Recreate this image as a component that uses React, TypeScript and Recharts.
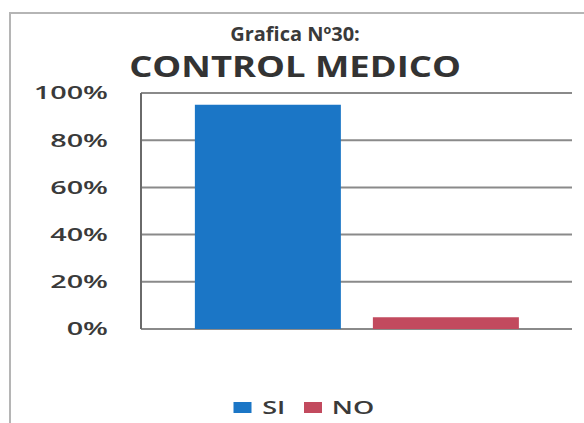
import React from 'react';
import { BarChart, Bar, XAxis, YAxis, CartesianGrid, Legend } from 'recharts';

const categories = ['SI', 'NO'];
const values = [95, 5];
const colors = ['#1b76c6', '#c24a5e'];
const yTicks = [0, 20, 40, 60, 80, 100];

const row: Record<string, string | number> = { name: 'CONTROL MEDICO' };
categories.forEach((c, i) => {
  row[c] = values[i];
});
const data = [row];

const font = '"Open Sans", "DejaVu Sans", sans-serif';

// the scan is stretched sideways, so texts get a horizontal scale
const YTick = (props: any) => {
  const { x, y, payload } = props;
  return (
    <text
      x={x}
      y={y}
      dy="0.36em"
      textAnchor="end"
      fill="#3a3a3a"
      fontSize={18}
      fontFamily={font}
      fontWeight={600}
      transform={`translate(${x} ${y}) scale(1.6 1) translate(${-x} ${-y})`}
    >
      {`${payload.value}%`}
    </text>
  );
};

const renderLegend = (props: any) => {
  const payload = [...(props.payload || [])].sort(
    (a: any, b: any) => categories.indexOf(a.value) - categories.indexOf(b.value)
  );
  return (
    <div
      style={{
        display: 'flex',
        justifyContent: 'center',
        alignItems: 'center',
        height: 24,
        paddingLeft: 36,
        transform: 'scaleX(1.5)',
        transformOrigin: 'center',
      }}
    >
      {payload.map((entry: any) => (
        <div key={entry.value} style={{ display: 'flex', alignItems: 'center', marginRight: 12 }}>
          <span style={{ display: 'inline-block', width: 12, height: 11, background: entry.color, marginRight: 7 }} />
          <span style={{ fontFamily: font, fontSize: 18, fontWeight: 600, color: '#3a3a3a' }}>{entry.value}</span>
        </div>
      ))}
    </div>
  );
};

const App = () => {
  return (
    <div style={{ position: 'absolute', left: 0, top: 0, width: 584, height: 423, background: '#fff', overflow: 'hidden' }}>
      <div style={{ position: 'absolute', left: 9, top: 12, width: 620, height: 430, border: '2px solid #b5b5b5' }} />
      <div style={{ position: 'absolute', top: 20, left: 0, width: 590, textAlign: 'center', fontFamily: font, fontWeight: 700, fontSize: 20, color: '#3a3a3a' }}>
        Grafica Nº30:
      </div>
      <div
        style={{
          position: 'absolute',
          top: 47,
          left: 0,
          width: 590,
          textAlign: 'center',
          fontFamily: font,
          fontWeight: 700,
          fontSize: 28,
          color: '#333',
          transform: 'scaleX(1.3)',
          transformOrigin: 'center',
        }}
      >
        CONTROL MEDICO
      </div>
      <div style={{ position: 'absolute', left: 0, top: 0 }}>
        <BarChart
          width={584}
          height={423}
          data={data}
          margin={{ top: 93, right: 12, bottom: 70, left: 0 }}
          barCategoryGap="12.5%"
          barGap={32}
        >
          <CartesianGrid vertical={false} stroke="#8a8a8a" strokeWidth={2} />
          <XAxis dataKey="name" hide />
          <YAxis
            width={141}
            domain={[0, 100]}
            ticks={yTicks}
            axisLine={{ stroke: '#6a6a6a', strokeWidth: 2 }}
            tickLine={false}
            tickMargin={27}
            tick={<YTick />}
          />
          <Legend content={renderLegend} wrapperStyle={{ top: 395, bottom: 'auto' }} />
          {categories.map((c, i) => (
            <Bar key={c} dataKey={c} fill={colors[i]} isAnimationActive={false} />
          ))}
        </BarChart>
      </div>
    </div>
  );
};

export default App;
